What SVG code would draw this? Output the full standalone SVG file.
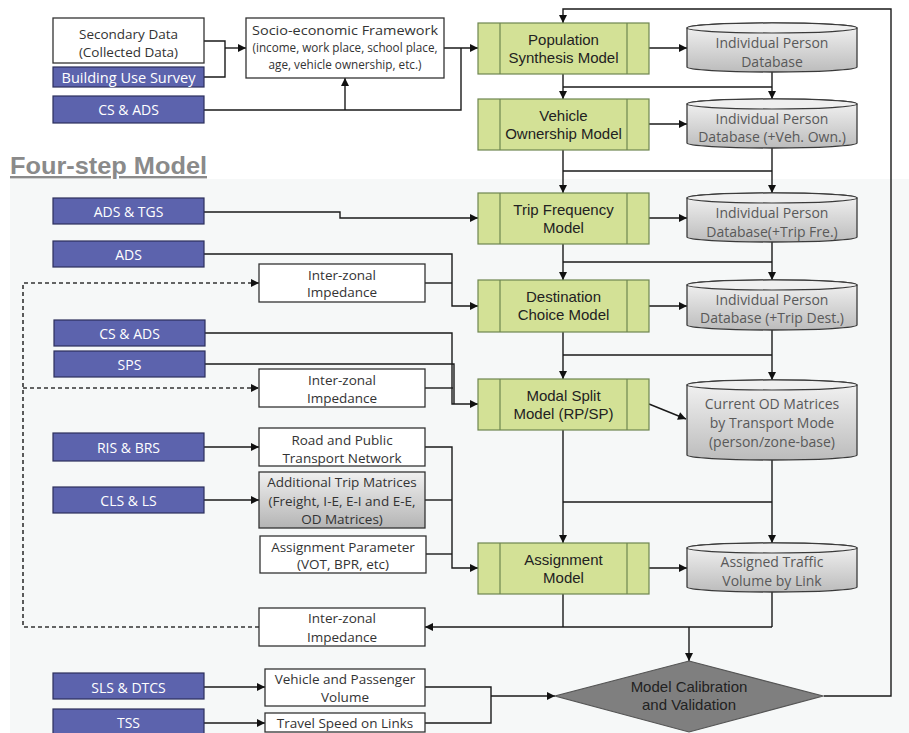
<svg xmlns="http://www.w3.org/2000/svg" width="909" height="733" viewBox="0 0 909 733">
<defs>
<linearGradient id="cylGrad" x1="0" y1="0" x2="0" y2="1">
<stop offset="0" stop-color="#f4f4f4"/>
<stop offset="1" stop-color="#bcbcbc"/>
</linearGradient>
<linearGradient id="boxGrad" x1="0" y1="0" x2="0" y2="1">
<stop offset="0" stop-color="#f0f0f0"/>
<stop offset="1" stop-color="#b4b4b4"/>
</linearGradient>
<marker id="arr" viewBox="0 0 10 10" refX="10" refY="5" markerWidth="9" markerHeight="8" markerUnits="userSpaceOnUse" orient="auto">
<path d="M0,0 L10,5 L0,10 z" fill="#111"/>
</marker>
<style>
.src{fill:#5c63ad;stroke:#2c2f5c;stroke-width:1.2}
.srct{font-family:"Open Sans","Noto Sans",sans-serif;font-size:14px;fill:#ffffff;text-anchor:middle}
.wb{fill:#ffffff;stroke:#333;stroke-width:1.3}
.wt{font-family:"Open Sans","Noto Sans",sans-serif;font-size:13.5px;fill:#333;text-anchor:middle}
.gb{fill:#d3e196;stroke:#6e8650;stroke-width:1.2}
.gl{stroke:#6e8650;stroke-width:1.2}
.gt{font-family:"Liberation Sans",Arial,sans-serif;font-size:15px;fill:#222;text-anchor:middle}
.cyl{fill:url(#cylGrad);stroke:#3a3a3a;stroke-width:1.3}
.cylTop{fill:#efefef;stroke:#3a3a3a;stroke-width:1.2}
.ct{font-family:"Open Sans","Noto Sans",sans-serif;font-size:14px;fill:#595959;text-anchor:middle}
.ln{fill:none;stroke:#1a1a1a;stroke-width:1.4}
.da{fill:none;stroke:#333;stroke-width:1.6;stroke-dasharray:4,3}
</style>
</defs>
<rect x="0" y="0" width="909" height="733" fill="#ffffff"/>
<rect x="10" y="179" width="899" height="554" fill="#f6f8f8"/>
<text x="10" y="174" font-family="Liberation Sans,Arial,sans-serif" font-weight="bold" font-size="24" fill="#8a8a8a" text-decoration="underline" textLength="197" lengthAdjust="spacingAndGlyphs">Four-step Model</text>

<g id="connectors">
<polyline class="ln" points="204,41 225,41 225,77 204,77"/>
<line class="ln" x1="225" y1="48" x2="246" y2="48" marker-end="url(#arr)"/>
<polyline class="ln" points="204,110 461,110 461,48"/>
<line class="ln" x1="345" y1="110" x2="345" y2="78" marker-end="url(#arr)"/>
<line class="ln" x1="444" y1="48" x2="478" y2="48" marker-end="url(#arr)"/>
<line class="ln" x1="649" y1="48" x2="687" y2="48" marker-end="url(#arr)"/>
<polyline class="ln" points="824,696 891,696 891,9 563,9 563,23" marker-end="url(#arr)"/>
<line class="ln" x1="563" y1="74" x2="563" y2="99" marker-end="url(#arr)"/>
<line class="ln" x1="772" y1="72" x2="772" y2="99" marker-end="url(#arr)"/>
<line class="ln" x1="563" y1="87" x2="772" y2="87"/>
<line class="ln" x1="649" y1="124" x2="687" y2="124" marker-end="url(#arr)"/>
<line class="ln" x1="563" y1="150" x2="563" y2="193" marker-end="url(#arr)"/>
<line class="ln" x1="772" y1="148" x2="772" y2="193" marker-end="url(#arr)"/>
<line class="ln" x1="563" y1="171" x2="772" y2="171"/>
<line class="ln" x1="649" y1="218" x2="687" y2="218" marker-end="url(#arr)"/>
<line class="ln" x1="563" y1="244" x2="563" y2="280" marker-end="url(#arr)"/>
<line class="ln" x1="772" y1="242" x2="772" y2="280" marker-end="url(#arr)"/>
<line class="ln" x1="563" y1="262" x2="772" y2="262"/>
<line class="ln" x1="649" y1="306" x2="687" y2="306" marker-end="url(#arr)"/>
<line class="ln" x1="563" y1="332" x2="563" y2="379" marker-end="url(#arr)"/>
<line class="ln" x1="772" y1="330" x2="772" y2="380" marker-end="url(#arr)"/>
<line class="ln" x1="563" y1="355" x2="772" y2="355"/>
<line class="ln" x1="649" y1="404" x2="686" y2="419" marker-end="url(#arr)"/>
<line class="ln" x1="563" y1="430" x2="563" y2="543" marker-end="url(#arr)"/>
<line class="ln" x1="772" y1="460" x2="772" y2="543" marker-end="url(#arr)"/>
<line class="ln" x1="563" y1="502" x2="772" y2="502"/>
<line class="ln" x1="649" y1="568" x2="687" y2="568" marker-end="url(#arr)"/>
<line class="ln" x1="563" y1="594" x2="563" y2="627"/>
<line class="ln" x1="772" y1="592" x2="772" y2="627"/>
<line class="ln" x1="772" y1="627" x2="425" y2="627" marker-end="url(#arr)"/>
<line class="ln" x1="689" y1="627" x2="689" y2="661" marker-end="url(#arr)"/>
<polyline class="da" points="259,627 23,627 23,283 259,283" marker-end="url(#arr)"/>
<line class="da" x1="23" y1="388" x2="259" y2="388" marker-end="url(#arr)"/>
<polyline class="ln" points="204,212 340,212 340,218 478,218" marker-end="url(#arr)"/>
<polyline class="ln" points="204,254 452,254 452,306 478,306" marker-end="url(#arr)"/>
<line class="ln" x1="425" y1="283" x2="452" y2="283"/>
<polyline class="ln" points="205,333 452,333 452,404 478,404" marker-end="url(#arr)"/>
<polyline class="ln" points="205,364 454,364 454,404"/>
<line class="ln" x1="425" y1="388" x2="453" y2="388"/>
<line class="ln" x1="204" y1="447" x2="259" y2="447" marker-end="url(#arr)"/>
<line class="ln" x1="204" y1="500" x2="259" y2="500" marker-end="url(#arr)"/>
<polyline class="ln" points="425,447 452,447 452,568 478,568" marker-end="url(#arr)"/>
<line class="ln" x1="425" y1="500" x2="452" y2="500"/>
<line class="ln" x1="426" y1="554" x2="452" y2="554"/>
<line class="ln" x1="204" y1="687" x2="265" y2="687" marker-end="url(#arr)"/>
<line class="ln" x1="204" y1="723" x2="265" y2="723" marker-end="url(#arr)"/>
<polyline class="ln" points="425,687 491,687 491,723 425,723"/>
<line class="ln" x1="491" y1="696" x2="555" y2="696" marker-end="url(#arr)"/>
</g>

<g id="secondary"><rect class="wb" x="53" y="18" width="151" height="45"/><text class="wt" x="128.5" y="39" font-size="14.5">Secondary Data</text><text class="wt" x="128.5" y="57" font-size="14.5">(Collected Data)</text></g>
<g id="bus"><rect class="src" x="53" y="67" width="151" height="20"/><text class="srct" x="128.5" y="82.5" textLength="134" lengthAdjust="spacingAndGlyphs">Building Use Survey</text></g>
<g id="csads1"><rect class="src" x="53" y="96" width="151" height="27"/><text class="srct" x="128.5" y="115">CS &amp; ADS</text></g>
<g id="socio"><rect class="wb" x="246" y="18" width="198" height="60"/><text class="wt" x="345" y="35" font-size="13.5" textLength="186" lengthAdjust="spacingAndGlyphs">Socio-economic Framework</text><text class="wt" x="345" y="52" font-size="11.5" textLength="185" lengthAdjust="spacingAndGlyphs">(income, work place, school place,</text><text class="wt" x="345" y="68.5" font-size="11.5" textLength="153" lengthAdjust="spacingAndGlyphs">age, vehicle ownership, etc.)</text></g>

<g id="pop"><rect class="gb" x="478" y="23" width="171" height="51"/><line class="gl" x1="500" y1="23" x2="500" y2="74"/><line class="gl" x1="627" y1="23" x2="627" y2="74"/><text class="gt" x="563.5" y="45">Population</text><text class="gt" x="563.5" y="63">Synthesis Model</text></g>
<g id="veh"><rect class="gb" x="478" y="99" width="171" height="51"/><line class="gl" x1="500" y1="99" x2="500" y2="150"/><line class="gl" x1="627" y1="99" x2="627" y2="150"/><text class="gt" x="563.5" y="121">Vehicle</text><text class="gt" x="563.5" y="139">Ownership Model</text></g>
<g id="trip"><rect class="gb" x="478" y="193" width="171" height="51"/><line class="gl" x1="500" y1="193" x2="500" y2="244"/><line class="gl" x1="627" y1="193" x2="627" y2="244"/><text class="gt" x="563.5" y="215">Trip Frequency</text><text class="gt" x="563.5" y="233">Model</text></g>
<g id="dest"><rect class="gb" x="478" y="280" width="171" height="52"/><line class="gl" x1="500" y1="280" x2="500" y2="332"/><line class="gl" x1="627" y1="280" x2="627" y2="332"/><text class="gt" x="563.5" y="302">Destination</text><text class="gt" x="563.5" y="320">Choice Model</text></g>
<g id="modal"><rect class="gb" x="478" y="379" width="171" height="51"/><line class="gl" x1="500" y1="379" x2="500" y2="430"/><line class="gl" x1="627" y1="379" x2="627" y2="430"/><text class="gt" x="563.5" y="401">Modal Split</text><text class="gt" x="563.5" y="419">Model (RP/SP)</text></g>
<g id="assign"><rect class="gb" x="478" y="543" width="171" height="51"/><line class="gl" x1="500" y1="543" x2="500" y2="594"/><line class="gl" x1="627" y1="543" x2="627" y2="594"/><text class="gt" x="563.5" y="565">Assignment</text><text class="gt" x="563.5" y="583">Model</text></g>

<g id="db1"><path class="cyl" d="M687,28 A85,5 0 0 1 857,28 V67 A85,5 0 0 1 687,67 Z"/><ellipse class="cylTop" cx="772" cy="28" rx="85" ry="5"/><text class="ct" x="772" y="48">Individual Person</text><text class="ct" x="772" y="67">Database</text></g>
<g id="db2"><path class="cyl" d="M687,104 A85,5 0 0 1 857,104 V143 A85,5 0 0 1 687,143 Z"/><ellipse class="cylTop" cx="772" cy="104" rx="85" ry="5"/><text class="ct" x="772" y="124">Individual Person</text><text class="ct" x="772" y="142">Database (+Veh. Own.)</text></g>
<g id="db3"><path class="cyl" d="M687,198 A85,5 0 0 1 857,198 V237 A85,5 0 0 1 687,237 Z"/><ellipse class="cylTop" cx="772" cy="198" rx="85" ry="5"/><text class="ct" x="772" y="218">Individual Person</text><text class="ct" x="772" y="237">Database(+Trip Fre.)</text></g>
<g id="db4"><path class="cyl" d="M687,285 A85,5 0 0 1 857,285 V325 A85,5 0 0 1 687,325 Z"/><ellipse class="cylTop" cx="772" cy="285" rx="85" ry="5"/><text class="ct" x="772" y="305">Individual Person</text><text class="ct" x="772" y="323">Database (+Trip Dest.)</text></g>
<g id="db5"><path class="cyl" d="M687,385 A85,5 0 0 1 857,385 V455 A85,5 0 0 1 687,455 Z"/><ellipse class="cylTop" cx="772" cy="385" rx="85" ry="5"/><text class="ct" x="772" y="409">Current OD Matrices</text><text class="ct" x="772" y="428">by Transport Mode</text><text class="ct" x="772" y="447">(person/zone-base)</text></g>
<g id="db6"><path class="cyl" d="M687,548 A85,5 0 0 1 857,548 V587 A85,5 0 0 1 687,587 Z"/><ellipse class="cylTop" cx="772" cy="548" rx="85" ry="5"/><text class="ct" x="772" y="567">Assigned Traffic</text><text class="ct" x="772" y="586">Volume by Link</text></g>

<g id="adstgs"><rect class="src" x="53" y="198" width="151" height="26"/><text class="srct" x="128.5" y="217">ADS &amp; TGS</text></g>
<g id="ads"><rect class="src" x="53" y="241" width="151" height="26"/><text class="srct" x="128.5" y="260">ADS</text></g>
<g id="imp1"><rect class="wb" x="259" y="264" width="166" height="38"/><text class="wt" x="342" y="280">Inter-zonal</text><text class="wt" x="342" y="297">Impedance</text></g>
<g id="csads2"><rect class="src" x="54" y="320" width="151" height="26"/><text class="srct" x="129.5" y="339">CS &amp; ADS</text></g>
<g id="sps"><rect class="src" x="54" y="351" width="151" height="26"/><text class="srct" x="129.5" y="370">SPS</text></g>
<g id="imp2"><rect class="wb" x="259" y="369" width="166" height="38"/><text class="wt" x="342" y="385">Inter-zonal</text><text class="wt" x="342" y="403">Impedance</text></g>
<g id="risbrs"><rect class="src" x="53" y="433" width="151" height="28"/><text class="srct" x="128.5" y="453">RIS &amp; BRS</text></g>
<g id="road"><rect class="wb" x="259" y="428" width="166" height="38"/><text class="wt" x="342" y="445">Road and Public</text><text class="wt" x="342" y="463">Transport Network</text></g>
<g id="addl"><rect x="259" y="472" width="166" height="56" fill="url(#boxGrad)" stroke="#333" stroke-width="1.3"/><text class="wt" x="342" y="487">Additional Trip Matrices</text><text class="wt" x="342" y="506">(Freight, I-E, E-I and E-E,</text><text class="wt" x="342" y="524">OD Matrices)</text></g>
<g id="clsls"><rect class="src" x="53" y="487" width="151" height="26"/><text class="srct" x="128.5" y="506">CLS &amp; LS</text></g>
<g id="param"><rect class="wb" x="260" y="536" width="166" height="37"/><text class="wt" x="343" y="552">Assignment Parameter</text><text class="wt" x="343" y="569">(VOT, BPR, etc)</text></g>
<g id="imp3"><rect class="wb" x="259" y="608" width="166" height="38"/><text class="wt" x="342" y="623">Inter-zonal</text><text class="wt" x="342" y="642">Impedance</text></g>
<g id="slsdtcs"><rect class="src" x="53" y="673" width="151" height="26"/><text class="srct" x="128.5" y="693">SLS &amp; DTCS</text></g>
<g id="vehpass"><rect class="wb" x="265" y="669" width="160" height="37"/><text class="wt" x="345" y="684">Vehicle and Passenger</text><text class="wt" x="345" y="702">Volume</text></g>
<g id="tss"><rect class="src" x="53" y="709" width="151" height="30"/><text class="srct" x="128.5" y="728">TSS</text></g>
<g id="travel"><rect class="wb" x="265" y="713" width="160" height="19"/><text class="wt" x="345" y="728">Travel Speed on Links</text></g>
<g id="calib"><polygon points="689,661 823,696 689,732 555,696" fill="#7f7f7f" stroke="#555" stroke-width="1.2"/><text class="gt" x="689" y="692" fill="#1a1a1a">Model Calibration</text><text class="gt" x="689" y="710" fill="#1a1a1a">and Validation</text></g>
</svg>
